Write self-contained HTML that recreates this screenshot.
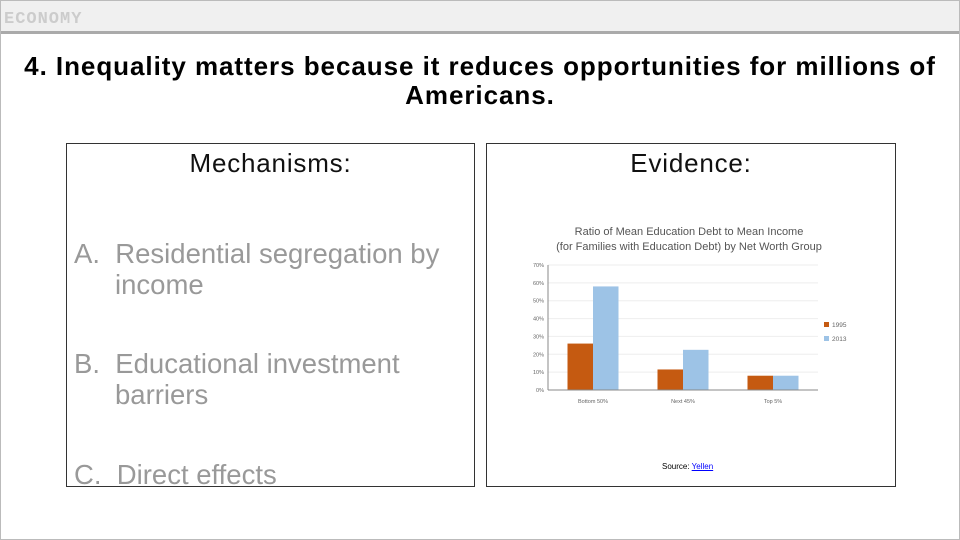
<!DOCTYPE html>
<html><head><meta charset="utf-8"><style>
body{margin:0;width:960px;height:540px;background:#fff;position:relative;overflow:hidden;font-family:"Liberation Sans",sans-serif}
.abs{position:absolute}
</style></head><body>
<div class="abs" style="left:0;top:0;width:958px;height:538px;border:1px solid #bbb"></div>
<div class="abs" style="left:1px;top:1px;width:958px;height:30px;background:#f0f0f0;border-bottom:3px solid #aaa"></div>
<div class="abs" style="left:4px;top:10px;font-size:17px;color:#ccc;font-weight:bold;letter-spacing:1px;font-family:'Liberation Mono',monospace">ECONOMY</div>
<div class="abs" style="left:0;top:52px;width:960px;text-align:center;font-size:26px;font-weight:bold;line-height:29px;letter-spacing:0.95px;color:#000">4. Inequality matters because it reduces opportunities for millions of<br>Americans.</div>
<div class="abs" style="left:66px;top:143px;width:407px;height:342px;border:1px solid #333">
 <div class="abs" style="left:0;top:4px;width:407px;text-align:center;font-size:26px;letter-spacing:0.8px;color:#111">Mechanisms:</div>
 <div class="abs" style="left:7px;top:94px;font-size:27.5px;color:#999;line-height:31px">A.&nbsp; Residential segregation by<br><span style="padding-left:41px">income</span></div>
 <div class="abs" style="left:7px;top:204px;font-size:27.5px;color:#999;line-height:31px">B.&nbsp; Educational investment<br><span style="padding-left:41px">barriers</span></div>
 <div class="abs" style="left:7px;top:315px;font-size:27.5px;color:#999;line-height:31px">C.&nbsp; Direct effects</div>
</div>
<div class="abs" style="left:486px;top:143px;width:408px;height:342px;border:1px solid #333">
 <div class="abs" style="left:0;top:4px;width:408px;text-align:center;font-size:26px;letter-spacing:0.8px;color:#111">Evidence:</div>
 <div class="abs" style="left:175px;top:318px;font-size:8px;color:#000">Source: <span style="color:#00f;text-decoration:underline">Yellen</span></div>
</div>
<svg class="abs" style="left:0;top:0" width="960" height="540">
<g id="g"></g>
</svg>
<script>
const categories=["Bottom 50%","Next 45%","Top 5%"];
const series1995=[26,11.5,8];
const series2013=[58,22.5,8];
const ticks=[0,10,20,30,40,50,60,70];
const seriesNames=["1995","2013"];
const colors=["#c55a11","#9dc3e6"];
const x0=548,x1=818,yb=390,yt=265;
const ys=v=>yb-(v/70)*(yb-yt);
const g=document.getElementById('g');
const NS='http://www.w3.org/2000/svg';
function mk(t,a,txt){const e=document.createElementNS(NS,t);for(const k in a)e.setAttribute(k,a[k]);if(txt!=null)e.textContent=txt;g.appendChild(e);return e;}
let e=mk('text',{x:689,y:235,'text-anchor':'middle','font-size':11,fill:'#555','font-family':'Liberation Sans'},'Ratio of Mean Education Debt to Mean Income');

e=mk('text',{x:689,y:250,'text-anchor':'middle','font-size':11,fill:'#555','font-family':'Liberation Sans'},'(for Families with Education Debt) by Net Worth Group');

ticks.forEach(t=>{
 if(t>0){const l=mk('line',{x1:x0,x2:x1,y1:ys(t),y2:ys(t),stroke:'#eee'});}
 const tx=mk('text',{x:x0-4,y:ys(t)+2,'text-anchor':'end','font-size':5.5,fill:'#666'},t+'%');
 
});
const gw=(x1-x0)/3,bw=25.5;
categories.forEach((c,i)=>{
 const cx=x0+gw*(i+0.5);
 [series1995,series2013].forEach((s,j)=>{
  const r=mk('rect',{x:cx-bw+j*bw,y:ys(s[i]),width:bw,height:yb-ys(s[i]),fill:colors[j]});
  
  
 });
 const t=mk('text',{x:cx,y:403,'text-anchor':'middle','font-size':5.5,fill:'#666'},c);
 
});
e=mk('line',{x1:x0,x2:x0,y1:yt,y2:yb,stroke:'#888'});
e=mk('line',{x1:x0,x2:x1,y1:yb,y2:yb,stroke:'#888'});
seriesNames.forEach((n,j)=>{
 const r=mk('rect',{x:824,y:322+j*14,width:5,height:5,fill:colors[j]});
 
 const t=mk('text',{x:832,y:327+j*14,'font-size':6.5,fill:'#666'},n);
 
});
</script>
</body></html>
